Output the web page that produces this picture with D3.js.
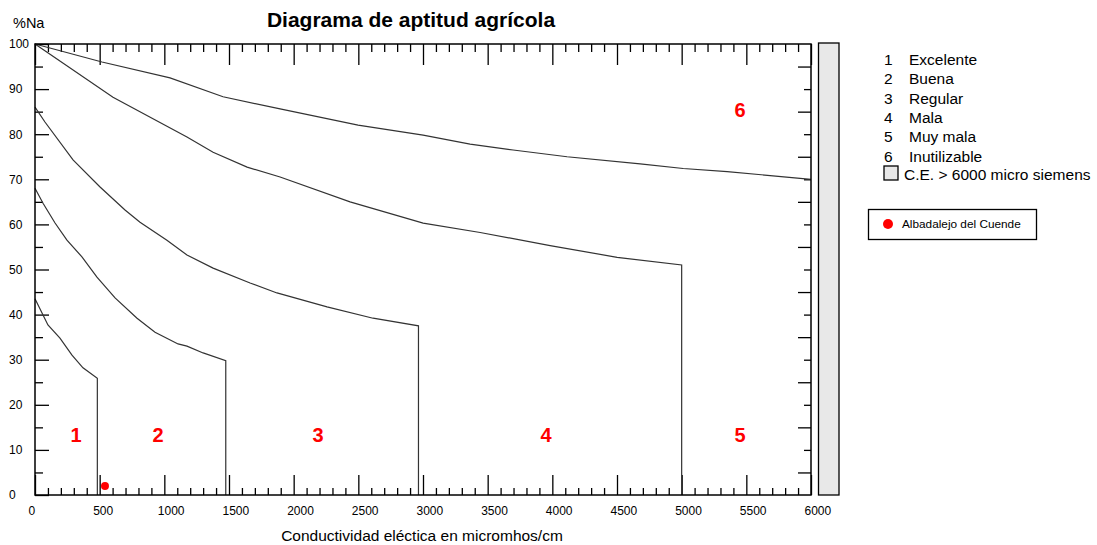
<!DOCTYPE html>
<html>
<head>
<meta charset="utf-8">
<script src="https://cdn.jsdelivr.net/npm/d3@7"></script>
<style>
  body { margin: 0; background: #fff; }
  svg, svg text { font-family: "Liberation Sans", Arial, sans-serif; }
</style>
</head>
<body>
<svg id="chart"></svg>
<script>
// zone boundary curves, [conductividad, %Na]
const curve12 = [[0, 43.5], [100, 37.7], [193, 34.8], [286, 31], [371, 28.2], [482, 25.9]];
const curve23 = [[0, 68], [62, 64.7], [155, 60.3], [247, 56.5], [363, 52.8], [479, 48.3], [619, 43.7],
  [789, 39.2], [928, 36.1], [1106, 33.5], [1175, 33], [1300, 31.5], [1475, 29.8]];
const curve34 = [[0, 86], [77, 82.7], [294, 74.3], [503, 68.3], [696, 63.2], [812, 60.5], [1020, 56.5],
  [1175, 53.2], [1377, 50.3], [1663, 47], [1871, 44.8], [2258, 41.7], [2614, 39.2], [2965, 37.5]];
const curve45 = [[0, 100], [603, 88.2], [1175, 79.4], [1377, 76], [1640, 72.7], [1895, 70.5], [2436, 65],
  [3001, 60.3], [3442, 58.2], [3983, 55.3], [4501, 52.7], [5000, 51]];
const curve56 = [[0, 100], [518, 96], [1044, 92.5], [1454, 88.3], [1895, 85.6], [2498, 82], [3001, 79.8],
  [3364, 77.8], [3697, 76.5], [4114, 75], [4679, 73.4], [5012, 72.4], [5352, 71.7], [6000, 70]];

// zone numbers and where they sit (data units)
const zoneIds = ["1", "2", "3", "4", "5", "6"];
const zoneNames = ["Excelente", "Buena", "Regular", "Mala", "Muy mala", "Inutilizable"];
const zoneCE = [317, 951, 2189, 3952, 5452, 5452];
const zoneNa = [13.3, 13.3, 13.3, 13.3, 13.3, 85.4];

// sample
const sampleNames = ["Albadalejo del Cuende"];
const sampleCE = [541];
const sampleNa = [2.0];

const xTicks = [0, 500, 1000, 1500, 2000, 2500, 3000, 3500, 4000, 4500, 5000, 5500, 6000];
const yTicks = [0, 10, 20, 30, 40, 50, 60, 70, 80, 90, 100];

function Diagrama(svg) {
  const width = 1097;
  const height = 545;
  const marginLeft = 35;
  const plotRight = 811;
  const marginTop = 44;
  const plotBottom = 495;

  svg.attr("width", width).attr("height", height).attr("viewBox", [0, 0, width, height]);

  const x = d3.scaleLinear([0, 6000], [marginLeft, plotRight]);
  const y = d3.scaleLinear([0, 100], [plotBottom, marginTop]);

  const xMinor = d3.range(100, 6000, 100).filter(v => v % 500 !== 0);
  const yMinor = d3.range(5, 100, 10);
  const yEven = d3.range(10, 100, 10);

  const tickStyle = g => g.attr("font-family", null).attr("font-size", null)
    .call(g => g.select(".domain").remove())
    .call(g => g.selectAll(".tick line").attr("stroke", "#000").attr("stroke-width", 1.3));

  // bottom axis, ticks pointing up
  svg.append("g")
      .attr("transform", `translate(0,${plotBottom})`)
      .call(d3.axisBottom(x).tickValues(xTicks).tickSize(-20).tickPadding(11).tickFormat(d3.format("d")))
      .call(tickStyle)
      .call(g => g.selectAll(".tick text")
          .attr("text-anchor", "start").attr("dx", -7)
          .attr("font-size", 12).attr("fill", "#000"));
  svg.append("g")
      .attr("transform", `translate(0,${plotBottom})`)
      .call(d3.axisBottom(x).tickValues(xMinor).tickSize(-7).tickFormat(""))
      .call(tickStyle);

  // top axis, ticks pointing down
  svg.append("g")
      .attr("transform", `translate(0,${marginTop})`)
      .call(d3.axisTop(x).tickValues(xTicks).tickSize(-21).tickFormat(""))
      .call(tickStyle);
  svg.append("g")
      .attr("transform", `translate(0,${marginTop})`)
      .call(d3.axisTop(x).tickValues(xMinor).tickSize(-8).tickFormat(""))
      .call(tickStyle);

  // left axis
  svg.append("g")
      .attr("transform", `translate(${marginLeft},0)`)
      .call(d3.axisLeft(y).tickValues(yTicks).tickSize(-14).tickFormat(d3.format("d")))
      .call(tickStyle)
      .call(g => g.selectAll(".tick text")
          .attr("text-anchor", "start").attr("x", 9 - marginLeft)
          .attr("font-size", 12).attr("fill", "#000"));
  svg.append("g")
      .attr("transform", `translate(${marginLeft},0)`)
      .call(d3.axisLeft(y).tickValues(yMinor).tickSize(-8).tickFormat(""))
      .call(tickStyle);

  // right axis (long ticks at the odd fives, as in the original)
  svg.append("g")
      .attr("transform", `translate(${plotRight},0)`)
      .call(d3.axisRight(y).tickValues(yMinor).tickSize(-13).tickFormat(""))
      .call(tickStyle);
  svg.append("g")
      .attr("transform", `translate(${plotRight},0)`)
      .call(d3.axisRight(y).tickValues(yEven).tickSize(-7).tickFormat(""))
      .call(tickStyle);

  // curves, each dropping straight down to the axis at its end
  const line = d3.line().x(d => x(d[0])).y(d => y(d[1]));
  const dropped = c => c.concat([[c[c.length - 1][0], 0]]);
  svg.append("g")
      .attr("fill", "none")
      .attr("stroke", "#333")
      .attr("stroke-width", 1.2)
    .selectAll("path")
    .data([dropped(curve12), dropped(curve23), dropped(curve34), dropped(curve45), curve56])
    .join("path")
      .attr("d", line);

  // frame
  svg.append("rect")
      .attr("x", marginLeft).attr("y", marginTop)
      .attr("width", plotRight - marginLeft).attr("height", plotBottom - marginTop)
      .attr("fill", "none").attr("stroke", "#000").attr("stroke-width", 1.5);

  // C.E. > 6000 bar
  svg.append("rect")
      .attr("x", 818.5).attr("y", 43).attr("width", 20.5).attr("height", plotBottom - 43)
      .attr("fill", "#e8e8e8").attr("stroke", "#000").attr("stroke-width", 1.3);

  // zone numbers
  svg.append("g")
      .attr("fill", "#ff0000")
      .attr("font-size", 20)
      .attr("font-weight", "bold")
      .attr("text-anchor", "middle")
    .selectAll("text")
    .data(zoneIds)
    .join("text")
      .attr("x", (d, i) => x(zoneCE[i]))
      .attr("y", (d, i) => y(zoneNa[i]))
      .attr("dy", "0.36em")
      .text(d => d);

  // sample point
  svg.append("g")
      .attr("fill", "#ff0000")
    .selectAll("circle")
    .data(sampleNames)
    .join("circle")
      .attr("cx", (d, i) => x(sampleCE[i]))
      .attr("cy", (d, i) => y(sampleNa[i]))
      .attr("r", 4);

  // title and axis labels
  svg.append("text")
      .attr("x", 411).attr("y", 27)
      .attr("text-anchor", "middle")
      .attr("font-size", 21).attr("font-weight", "bold")
      .text("Diagrama de aptitud agrícola");
  svg.append("text")
      .attr("x", 13).attr("y", 28)
      .attr("font-size", 14.5)
      .text("%Na");
  svg.append("text")
      .attr("x", 422).attr("y", 541)
      .attr("text-anchor", "middle")
      .attr("font-size", 15.5)
      .text("Conductividad eléctica en micromhos/cm");

  // legend
  const legend = svg.append("g").attr("font-size", 15.5);
  const row = legend.selectAll("g")
    .data(zoneIds)
    .join("g")
      .attr("transform", (d, i) => `translate(0,${65 + i * 19.3})`);
  row.append("text").attr("x", 884).text(d => d);
  row.append("text").attr("x", 909).text((d, i) => zoneNames[i]);
  legend.append("rect")
      .attr("x", 884).attr("y", 166).attr("width", 14).attr("height", 14)
      .attr("fill", "#e8e8e8").attr("stroke", "#000").attr("stroke-width", 1.3);
  legend.append("text").attr("x", 904).attr("y", 180).text("C.E. > 6000 micro siemens");

  const box = svg.append("g");
  box.append("rect")
      .attr("x", 868.5).attr("y", 209.5).attr("width", 168).attr("height", 30)
      .attr("fill", "#fff").attr("stroke", "#000").attr("stroke-width", 1.3);
  box.append("circle").attr("cx", 888).attr("cy", 224).attr("r", 5).attr("fill", "#ff0000");
  box.append("text").attr("x", 902).attr("y", 228).attr("font-size", 11.8).text(sampleNames[0]);

  return svg.node();
}

Diagrama(d3.select("#chart"));
</script>
</body>
</html>
